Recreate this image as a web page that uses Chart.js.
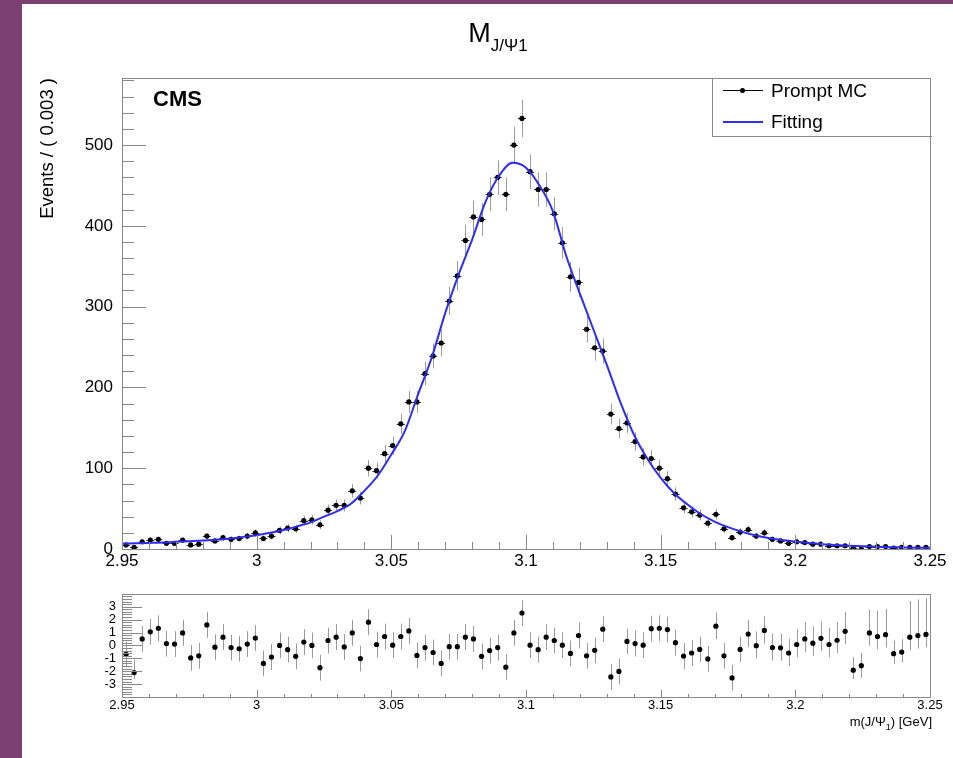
<!DOCTYPE html>
<html>
<head>
<meta charset="utf-8">
<script src="https://cdn.jsdelivr.net/npm/chart.js@4.4.1/dist/chart.umd.min.js"></script>
<style>
  body { margin: 0; width: 953px; height: 758px; background: #fff; position: relative; overflow: hidden;
         font-family: "Liberation Sans", Arial, sans-serif; }
  .strip-left { position: absolute; left: 0; top: 0; width: 22px; height: 758px; background: #7b3f72; }
  .strip-top { position: absolute; left: 0; top: 0; width: 953px; height: 4px; background: #7b3f72; }
  canvas { position: absolute; left: 0; }
  #main { top: 0; }
  #pull { top: 580px; }
  .title { position: absolute; left: 398px; width: 200px; top: 18px; text-align: center; font-size: 27px; color: #000; }
  .title sub { font-size: 17px; vertical-align: -9px; }
  .cms { position: absolute; left: 153px; top: 86px; font-size: 22px; font-weight: bold; color: #000; }
  .legend { position: absolute; left: 712px; top: 78px; width: 219px; height: 58px; border-left: 1px solid #888; border-bottom: 1px solid #888; }
  .leg-row { position: absolute; left: 0; height: 24px; width: 219px; }
  .leg-line { position: absolute; left: 10px; width: 40px; top: 11px; height: 1px; background: #000; }
  .leg-dot { position: absolute; left: 27px; top: 9px; width: 5px; height: 5px; border-radius: 50%; background: #000; }
  .leg-text { position: absolute; left: 58px; top: 0; font-size: 19px; line-height: 24px; color: #000; }
  .xtitle { position: absolute; right: 21px; top: 714px; font-size: 13px; color: #000; }
  .xtitle sub { font-size: 9px; }
</style>
</head>
<body>
<div class="strip-top"></div>
<div class="strip-left"></div>
<canvas id="main" width="953" height="580"></canvas>
<canvas id="pull" width="953" height="178"></canvas>
<div class="title">M<sub>J/Ψ1</sub></div>
<div class="cms">CMS</div>
<div class="legend">
  <div class="leg-row" style="top:1px"><div class="leg-line"></div><div class="leg-dot"></div><div class="leg-text">Prompt MC</div></div>
  <div class="leg-row" style="top:32px"><div class="leg-line" style="background:#2e2ef2;height:2px"></div><div class="leg-text">Fitting</div></div>
</div>
<div class="xtitle">m(J/Ψ<sub>1</sub>) [GeV]</div>
<script>
// histogram binning
const binLow = 2.95;
const binWidth = 0.003;

// events per bin (100 bins, 2.95 - 3.25)
const counts = [
  5, 2, 9, 11, 12, 7, 7, 11, 5, 6,
  16, 10, 14, 12, 13, 16, 20, 13, 16, 23,
  26, 25, 35, 36, 30, 48, 54, 54, 72, 63,
  100, 97, 118, 128, 155, 182, 182, 217, 239, 255,
  307, 338, 382, 411, 408, 439, 460, 439, 500, 533,
  467, 445, 445, 415, 379, 337, 330, 272, 249, 245,
  167, 149, 156, 133, 114, 112, 100, 87, 68, 51,
  46, 42, 32, 43, 25, 14, 21, 24, 16, 20,
  12, 10, 7, 9, 8, 6, 6, 4, 4, 4,
  1, 0, 3, 3, 3, 1, 2, 2, 2, 2
];

// fitted curve
const fitX = [
  2.950, 2.955, 2.960, 2.965, 2.970, 2.975, 2.980, 2.985, 2.990, 2.995,
  3.000, 3.005, 3.010, 3.015, 3.020, 3.025, 3.030, 3.035, 3.040, 3.045,
  3.050, 3.055, 3.060, 3.065, 3.070, 3.075, 3.080, 3.085, 3.090, 3.095,
  3.100, 3.105, 3.110, 3.115, 3.120, 3.125, 3.130, 3.135, 3.140, 3.145,
  3.150, 3.155, 3.160, 3.165, 3.170, 3.175, 3.180, 3.185, 3.190, 3.195,
  3.200, 3.205, 3.210, 3.215, 3.220, 3.225, 3.230, 3.235, 3.240, 3.245, 3.250
];
const fitY = [
  6.5, 7, 7.5, 8, 9, 9.5, 10.5, 11.5, 13, 15,
  17, 20, 23.5, 28, 33, 40, 47, 56, 72, 91,
  117, 146, 192, 237, 292, 340, 383, 430, 462, 478,
  472, 450, 418, 362, 316, 272, 228, 182, 142, 112,
  88, 69, 55, 43, 34, 27, 21.5, 17, 13.5, 11,
  9, 7.5, 6, 5, 4, 3.3, 2.8, 2.3, 2, 1.7, 1.5
];

// pulls per bin
const pulls = [
  -0.69, -2.11, 0.50, 1.05, 1.33, 0.14, 0.10, 0.97, -0.97, -0.81,
  1.59, -0.14, 0.64, -0.17, -0.26, 0.10, 0.57, -1.40, -0.90, 0.00,
  -0.33, -0.85, 0.26, 0.00, -1.73, 0.38, 0.64, -0.12, 0.97, -1.02,
  1.80, 0.07, 0.69, 0.02, 0.69, 1.12, -0.78, -0.17, -0.55, -1.40,
  -0.10, -0.10, 0.64, 0.50, -0.85, -0.40, -0.17, -1.69, 0.97, 2.51,
  0.02, -0.33, 0.64, 0.38, 0.02, -0.62, 0.76, -0.81, -0.38, 1.26,
  -2.44, -2.02, 0.31, 0.14, 0.02, 1.30, 1.33, 1.23, 0.21, -0.83,
  -0.59, -0.31, -1.05, 1.49, -0.81, -2.52, -0.31, 0.88, -0.02, 1.16,
  -0.17, -0.19, -0.59, 0.07, 0.50, 0.17, 0.55, 0.07, 0.40, 1.09,
  -1.92, -1.57, 0.97, 0.69, 0.83, -0.64, -0.52, 0.64, 0.76, 0.85
];
const pullErrUp = [
  1, 1, 1, 1, 1, 1, 1, 1, 1, 1,
  1, 1, 1, 1, 1, 1, 1, 1, 1, 1,
  1, 1, 1, 1, 1, 1, 1, 1, 1, 1,
  1, 1, 1, 1, 1, 1, 1, 1, 1, 1,
  1, 1, 1, 1, 1, 1, 1, 1, 1, 1,
  1, 1, 1, 1, 1, 1, 1, 1, 1, 1,
  1, 1, 1, 1, 1, 1, 1, 1, 1, 1,
  1, 1, 1, 1.05, 1, 1, 1, 1.1, 1.1, 1.1,
  1.1, 1.1, 1.1, 1.2, 1.3, 1.3, 1.3, 1.3, 1.4, 1.5,
  1.0, 1.0, 1.8, 2.0, 2.0, 1.0, 1.0, 2.8, 2.8, 2.8
];
const pullErrDown = [
  1, 0.5, 1, 1, 1, 1, 1, 1, 1, 1,
  1, 1, 1, 1, 1, 1, 1, 1, 1, 1,
  1, 1, 1, 1, 1, 1, 1, 1, 1, 1,
  1, 1, 1, 1, 1, 1, 1, 1, 1, 1,
  1, 1, 1, 1, 1, 1, 1, 1, 1, 1,
  1, 1, 1, 1, 1, 1, 1, 1, 1, 1,
  1, 1, 1, 1, 1, 1, 1, 1, 1, 1,
  1, 1, 1, 1, 1, 1, 1, 1, 1, 1,
  1, 1, 1, 1, 1, 1, 1, 1, 1, 1,
  0.7, 0.95, 1, 1, 1, 0.8, 0.8, 1, 1, 1
];

// axis ticks
const xTicks = [2.95, 3.0, 3.05, 3.1, 3.15, 3.2, 3.25];
const yTicks = [0, 100, 200, 300, 400, 500];
const pullTicks = [-3, -2, -1, 0, 1, 2, 3];

const centers = counts.map((c, i) => binLow + binWidth * (i + 0.5));
const FONT = '"Liberation Sans", Arial, sans-serif';
const fmt = v => String(+Number(v).toFixed(2));

// ROOT-like frame, inward ticks and error bars
const rootAxes = {
    id: 'rootAxes',
    beforeDatasetsDraw(chart, args, o) {
        const { ctx } = chart;
        const x = chart.scales.x, y = chart.scales.y;
        const pts = chart.data.datasets[o.errSet].data;
        ctx.save();
        ctx.lineWidth = 1;
        pts.forEach((p, i) => {
            const px = Math.round(x.getPixelForValue(p.x)) + 0.5;
            const py = y.getPixelForValue(p.y);
            ctx.strokeStyle = '#9a9a9a';
            ctx.beginPath();
            ctx.moveTo(px, y.getPixelForValue(p.y + o.errUp[i]));
            ctx.lineTo(px, y.getPixelForValue(p.y - o.errDown[i]));
            ctx.stroke();
            if (o.hbar) {
                ctx.strokeStyle = '#333';
                ctx.beginPath();
                ctx.moveTo(x.getPixelForValue(p.x - binWidth / 2), Math.round(py) + 0.5);
                ctx.lineTo(x.getPixelForValue(p.x + binWidth / 2), Math.round(py) + 0.5);
                ctx.stroke();
            }
        });
        ctx.restore();
    },
    afterDraw(chart, args, o) {
        const { ctx, chartArea: a } = chart;
        const x = chart.scales.x, y = chart.scales.y;
        ctx.save();
        ctx.strokeStyle = '#888';
        ctx.lineWidth = 1;
        ctx.strokeRect(Math.round(a.left) + 0.5, Math.round(a.top) + 0.5,
                       Math.round(a.right - a.left), Math.round(a.bottom - a.top));
        ctx.beginPath();
        // x ticks
        for (let k = 0; ; k++) {
            const v = x.min + k * o.xMinor;
            if (v > x.max + 1e-9) break;
            const major = k % o.xDiv === 0;
            const px = Math.round(x.getPixelForValue(v)) + 0.5;
            ctx.moveTo(px, a.bottom);
            ctx.lineTo(px, a.bottom - (major ? o.xMajorLen : o.xMinorLen));
        }
        // y ticks
        for (let k = 0; ; k++) {
            const v = o.yStart + k * o.yMinor;
            if (v > y.max + 1e-9) break;
            if (v < y.min - 1e-9) continue;
            const major = Math.abs(v / (o.yMinor * o.yDiv) - Math.round(v / (o.yMinor * o.yDiv))) < 1e-6;
            const py = Math.round(y.getPixelForValue(v)) + 0.5;
            ctx.moveTo(a.left, py);
            ctx.lineTo(a.left + (major ? o.yMajorLen : o.yMinorLen), py);
        }
        ctx.stroke();
        ctx.restore();
    }
};

// main panel
new Chart(document.getElementById('main'), {
    type: 'scatter',
    data: {
        datasets: [
            {
                label: 'Fitting',
                data: fitX.map((v, i) => ({ x: v, y: fitY[i] })),
                showLine: true,
                borderColor: '#2e2ef2',
                borderWidth: 2,
                pointRadius: 0,
                cubicInterpolationMode: 'monotone',
                order: 0
            },
            {
                label: 'Prompt MC',
                data: centers.map((v, i) => ({ x: v, y: counts[i] })),
                pointRadius: 2.6,
                backgroundColor: '#000',
                borderWidth: 0,
                order: 1
            }
        ]
    },
    plugins: [rootAxes],
    options: {
        responsive: false,
        animation: false,
        layout: { padding: { left: 22, right: 23, top: 78, bottom: 0 } },
        plugins: {
            legend: { display: false },
            tooltip: { enabled: false },
            rootAxes: {
                errSet: 1,
                errUp: counts.map(c => Math.sqrt(c)),
                errDown: counts.map(c => Math.sqrt(c)),
                hbar: true,
                xMinor: 0.01, xDiv: 5, xMajorLen: 14, xMinorLen: 7,
                yStart: 0, yMinor: 20, yDiv: 5, yMajorLen: 24, yMinorLen: 12
            }
        },
        scales: {
            x: {
                type: 'linear', min: 2.95, max: 3.25,
                afterBuildTicks: s => { s.ticks = xTicks.map(v => ({ value: v })); },
                afterFit: s => { s.height = 31; },
                grid: { display: false, drawTicks: false },
                border: { display: false },
                ticks: { padding: 2, color: '#000', maxRotation: 0, autoSkip: false,
                         font: { size: 17, family: FONT }, callback: v => fmt(v) }
            },
            y: {
                type: 'linear', min: 0, max: 583,
                afterBuildTicks: s => { s.ticks = yTicks.map(v => ({ value: v })); },
                afterFit: s => { s.width = 100; },
                grid: { display: false, drawTicks: false },
                border: { display: false },
                ticks: { padding: 9, color: '#000', autoSkip: false, font: { size: 17, family: FONT } },
                title: { display: true, text: 'Events / ( 0.003 )', align: 'end', color: '#000',
                         font: { size: 18.5, family: FONT }, padding: { top: 15, bottom: 0 } }
            }
        }
    }
});

// pull panel
new Chart(document.getElementById('pull'), {
    type: 'scatter',
    data: {
        datasets: [{
            label: 'Pull',
            data: centers.map((v, i) => ({ x: v, y: pulls[i] })),
            pointRadius: 2.6,
            backgroundColor: '#000',
            borderWidth: 0
        }]
    },
    plugins: [rootAxes],
    options: {
        responsive: false,
        animation: false,
        layout: { padding: { left: 22, right: 23, top: 7, bottom: 0 } },
        plugins: {
            legend: { display: false },
            tooltip: { enabled: false },
            rootAxes: {
                errSet: 0,
                errUp: pullErrUp,
                errDown: pullErrDown,
                hbar: false,
                xMinor: 0.01, xDiv: 5, xMajorLen: 7, xMinorLen: 3,
                yStart: -4, yMinor: 0.2, yDiv: 5, yMajorLen: 20, yMinorLen: 10
            }
        },
        scales: {
            x: {
                type: 'linear', min: 2.95, max: 3.25,
                afterBuildTicks: s => { s.ticks = xTicks.map(v => ({ value: v })); },
                afterFit: s => { s.height = 61; },
                grid: { display: false, drawTicks: false },
                border: { display: false },
                ticks: { padding: 1, color: '#000', maxRotation: 0, autoSkip: false,
                         font: { size: 13, family: FONT }, callback: v => fmt(v) }
            },
            y: {
                type: 'linear', min: -4, max: 4,
                afterBuildTicks: s => { s.ticks = pullTicks.map(v => ({ value: v })); },
                afterFit: s => { s.width = 100; },
                grid: { display: false, drawTicks: false },
                border: { display: false },
                ticks: { padding: 6, color: '#000', autoSkip: false, font: { size: 13, family: FONT } }
            }
        }
    }
});
</script>
</body>
</html>
